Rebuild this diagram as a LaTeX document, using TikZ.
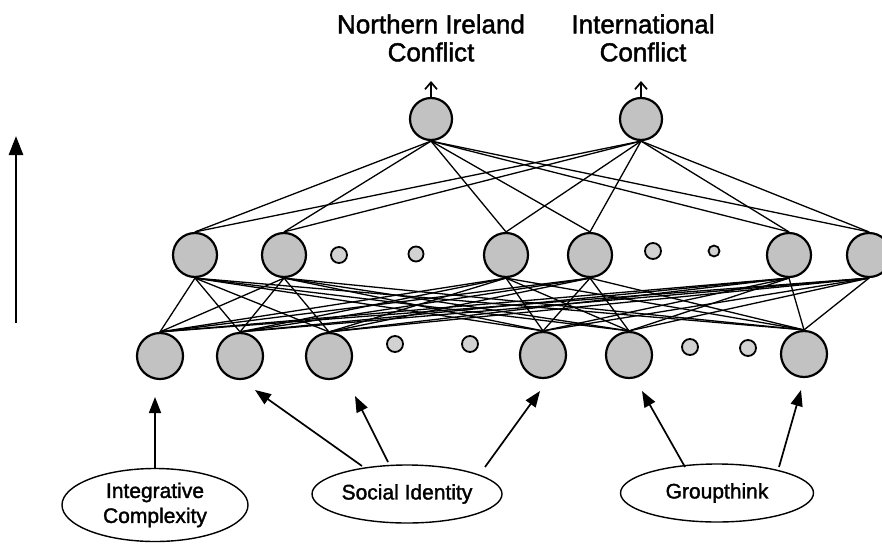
\documentclass[tikz,border=0pt]{standalone}
\usepackage{fontspec}
\setmainfont{Liberation Sans}[FakeBold=1.6]
\usetikzlibrary{arrows.meta,shapes.geometric}
\begin{document}
\begin{tikzpicture}[x=1pt,y=-1pt,
 unit/.style={circle,draw=black,line width=2.2pt,fill=gray!48,minimum size=44pt,inner sep=0pt},
 dot/.style={circle,draw=black,line width=1.8pt,fill=gray!35,inner sep=0pt},
 link/.style={line width=1.3pt},
 inarrow/.style={line width=1.7pt,-{Triangle[length=16pt,width=12pt]}},
 outarrow/.style={line width=1.7pt,-{Straight Barb[length=7pt,width=12pt]}},
 cause/.style={ellipse,draw=black,line width=1.4pt,inner sep=0pt,align=center,font=\fontsize{21}{25}\selectfont},
 toplabel/.style={align=center,font=\fontsize{26}{28}\selectfont}]
\useasboundingbox (0,0) rectangle (882,557);
\clip (0,0) rectangle (882,557);
% output layer
\node[unit,minimum size=42pt] (o1) at (431,119) {};
\node[unit,minimum size=42pt] (o2) at (641,119) {};
% hidden layer
\node[unit] (h1) at (195,255) {};
\node[unit] (h2) at (284,255) {};
\node[dot,minimum size=16pt] (hd1) at (339,255) {};
\node[dot,minimum size=15pt] (hd2) at (416,254) {};
\node[unit] (h3) at (506,255) {};
\node[unit] (h4) at (590,255) {};
\node[dot,minimum size=16pt] (hd3) at (653,251) {};
\node[dot,minimum size=11pt] (hd4) at (714,251) {};
\node[unit] (h5) at (789,255) {};
\node[unit] (h6) at (869,255) {};
% input layer
\node[unit,minimum size=46pt] (i1) at (160,356) {};
\node[unit,minimum size=46pt] (i2) at (240,356) {};
\node[unit,minimum size=46pt] (i3) at (329,356) {};
\node[dot,minimum size=16pt] (id1) at (395,344) {};
\node[dot,minimum size=16pt] (id2) at (470,344) {};
\node[unit,minimum size=46pt] (i4) at (543,355) {};
\node[unit,minimum size=46pt] (i5) at (629,355) {};
\node[dot,minimum size=16pt] (id3) at (690,347) {};
\node[dot,minimum size=16pt] (id4) at (748,348) {};
\node[unit,minimum size=46pt] (i6) at (804,354) {};
% connections hidden -> output
\foreach \h in {h1,h2,h3,h4,h5,h6}{
  \foreach \o in {o1,o2}{
    \draw[link] (\h.north) -- (\o.south);
  }
}
% connections input -> hidden
\foreach \i in {i1,i2,i3,i4,i5,i6}{
  \foreach \h in {h1,h2,h3,h4,h5,h6}{
    \draw[link] (\i.north) -- (\h.south);
  }
}
% output labels and arrows
\node[toplabel] (l1) at (431,38) {Northern Ireland\\Conflict};
\node[toplabel] (l2) at (643,38) {International\\Conflict};
\coordinate (t1) at (431,81);
\coordinate (t2) at (641,81);
\draw[outarrow] (o1.north) -- (t1);
\draw[outarrow] (o2.north) -- (t2);
% left direction arrow
\coordinate (lb) at (16,323);
\coordinate (lt) at (16,136);
\draw[line width=2.8pt,-{Triangle[length=19pt,width=14pt]}] (lb) -- (lt);
% causes
\node[cause,minimum width=186pt,minimum height=73pt] (ic) at (155,505) {Integrative\\Complexity};
\node[cause,minimum width=190pt,minimum height=58pt] (si) at (407,494) {Social Identity};
\node[cause,minimum width=193pt,minimum height=58pt] (gt) at (717,493) {Groupthink};
% cause arrows
\coordinate (a1s) at (155,469);
\coordinate (a1t) at (155,397);
\draw[inarrow] (a1s) -- (a1t);
\coordinate (a2s) at (362,466);
\coordinate (a2t) at (255,390);
\draw[inarrow] (a2s) -- (a2t);
\coordinate (a3s) at (388,462);
\coordinate (a3t) at (355,396);
\draw[inarrow] (a3s) -- (a3t);
\coordinate (a4s) at (485,467);
\coordinate (a4t) at (540,391);
\draw[inarrow] (a4s) -- (a4t);
\coordinate (a5s) at (685,467);
\coordinate (a5t) at (642,391);
\draw[inarrow] (a5s) -- (a5t);
\coordinate (a6s) at (779,467);
\coordinate (a6t) at (801,390);
\draw[inarrow] (a6s) -- (a6t);
\end{tikzpicture}
\end{document}
